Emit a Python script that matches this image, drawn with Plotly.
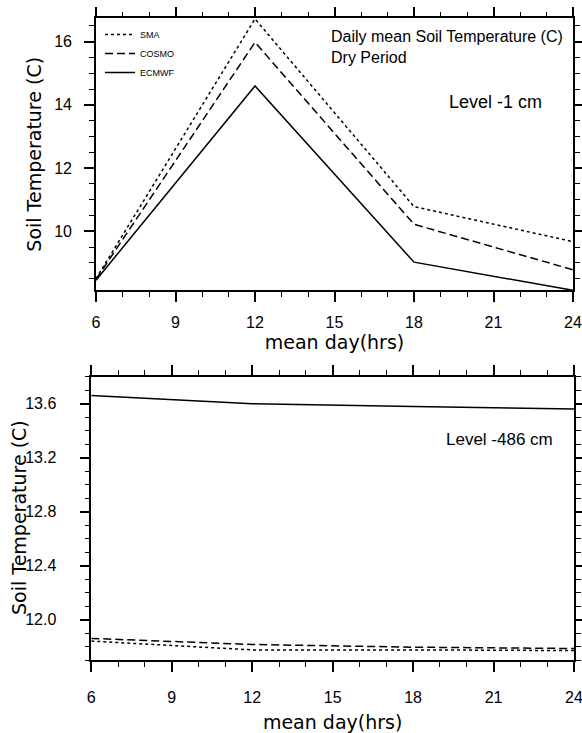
import plotly.graph_objects as go

# ---- data ----
hours = [6, 12, 18, 24]
series_names = ["SMA", "COSMO", "ECMWF"]

top_sma = [8.50, 16.72, 10.78, 9.67]
top_cosmo = [8.48, 15.98, 10.22, 8.78]
top_ecmwf = [8.45, 14.60, 9.02, 8.13]

bot_sma = [11.84, 11.775, 11.775, 11.77]
bot_cosmo = [11.86, 11.815, 11.795, 11.785]
bot_ecmwf = [13.66, 13.60, 13.58, 13.56]

x_ticks = [6, 9, 12, 15, 18, 21, 24]
top_range = [8.13, 16.74]
bot_range = [11.70, 13.80]

title_lines = ["Daily mean Soil Temperature (C)", "Dry Period"]
level_top = "Level -1 cm"
level_bot = "Level -486 cm"
x_title = "mean day(hrs)"
y_title = "Soil Temperature (C)"

# ---- styling ----
W, H = 582, 733
dashes = {"SMA": "3px,3px", "COSMO": "8px,4px", "ECMWF": "solid"}
tickfont = dict(family="Liberation Sans, Arial, sans-serif", size=16, color="black")
titlefont = dict(family="DejaVu Sans, sans-serif", size=19, color="black")

fig = go.Figure()

for name, ys in zip(series_names, [top_sma, top_cosmo, top_ecmwf]):
    fig.add_trace(go.Scatter(x=hours, y=ys, mode="lines", name=name,
                             line=dict(color="black", width=1.5, dash=dashes[name]),
                             xaxis="x", yaxis="y", showlegend=True))
for name, ys in zip(series_names, [bot_sma, bot_cosmo, bot_ecmwf]):
    fig.add_trace(go.Scatter(x=hours, y=ys, mode="lines", name=name,
                             line=dict(color="black", width=1.5, dash=dashes[name]),
                             xaxis="x2", yaxis="y2", showlegend=False))

def px_x(p):
    return p / W

def px_y(p):
    return 1 - p / H

common = dict(showline=True, linecolor="black", linewidth=1.6, mirror="ticks",
              ticks="outside", ticklen=10, tickwidth=1.5, tickcolor="black",
              showgrid=False, zeroline=False, tickfont=tickfont, automargin=False,
              ticklabeloverflow="allow")

minor_x = dict(dtick=1, tick0=6, ticklen=5, ticks="outside", tickcolor="black", tickwidth=1.2)

fig.update_layout(
    width=W, height=H, margin=dict(l=0, r=0, t=0, b=0),
    paper_bgcolor="white", plot_bgcolor="white",
    xaxis=dict(domain=[px_x(96), px_x(573)], range=[6, 24], tickvals=x_ticks,
               minor=minor_x, anchor="y", ticklabelstandoff=7,
               title=dict(text=x_title, font=titlefont, standoff=5), **common),
    yaxis=dict(domain=[px_y(290.3), px_y(18.3)], range=top_range, dtick=2, tick0=0,
               minor=dict(dtick=0.5, tick0=0, ticklen=5, ticks="outside", tickcolor="black", tickwidth=1.2),
               anchor="x", ticklabelstandoff=9,
               title=dict(text=y_title, font=titlefont, standoff=8), **common),
    xaxis2=dict(domain=[px_x(91.3), px_x(574)], range=[6, 24], tickvals=x_ticks,
                minor=minor_x, anchor="y2", ticklabelstandoff=12,
                title=dict(text=x_title, font=titlefont, standoff=11), **common),
    yaxis2=dict(domain=[px_y(660), px_y(376.7)], range=bot_range, dtick=0.4, tick0=0,
                tickformat=".1f",
                minor=dict(dtick=0.1, tick0=0, ticklen=5, ticks="outside", tickcolor="black", tickwidth=1.2),
                anchor="x2", ticklabelstandoff=20, **common),
    legend=dict(x=px_x(100), y=px_y(20), xanchor="left", yanchor="top",
                bgcolor="rgba(0,0,0,0)", borderwidth=0,
                font=dict(family="Liberation Sans, Arial, sans-serif", size=9, color="black"),
                tracegroupgap=0),
    showlegend=True,
)

# y-axis title of the lower panel (placed as rotated text for exact position)
fig.add_annotation(x=px_x(19), y=px_y(518), xref="paper", yref="paper", text=y_title,
                   textangle=-90, showarrow=False, xanchor="center", yanchor="middle",
                   font=titlefont)

ann_font = dict(family="Liberation Sans, Arial, sans-serif", color="black")
fig.add_annotation(x=px_x(329), y=px_y(36.7), xref="paper", yref="paper", text=title_lines[0],
                   showarrow=False, xanchor="left", yanchor="middle", font=dict(size=16, **ann_font))
fig.add_annotation(x=px_x(329), y=px_y(57.3), xref="paper", yref="paper", text=title_lines[1],
                   showarrow=False, xanchor="left", yanchor="middle", font=dict(size=16, **ann_font))
fig.add_annotation(x=px_x(447), y=px_y(101.7), xref="paper", yref="paper", text=level_top,
                   showarrow=False, xanchor="left", yanchor="middle", font=dict(size=18, **ann_font))
fig.add_annotation(x=px_x(444), y=px_y(439), xref="paper", yref="paper", text=level_bot,
                   showarrow=False, xanchor="left", yanchor="middle", font=dict(size=17, **ann_font))

fig.write_html("out.html", config={"displayModeBar": False},
               post_script="document.body.style.margin='0';document.body.style.overflow='hidden';")
